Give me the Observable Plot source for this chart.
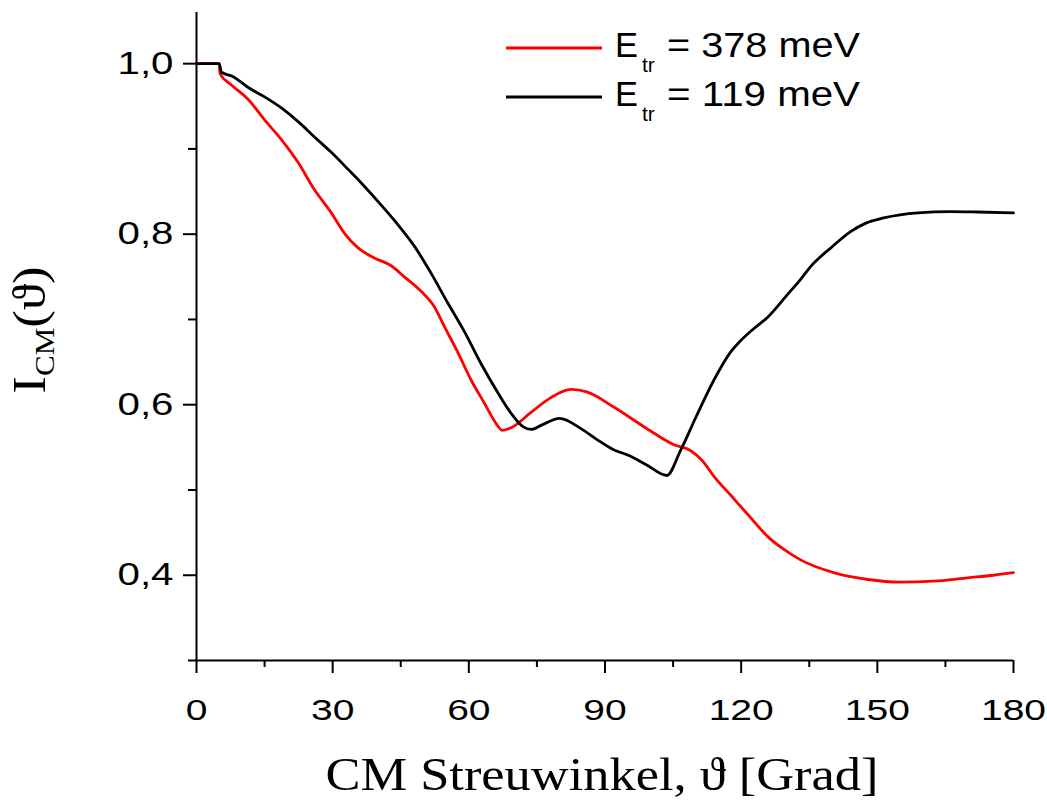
<!DOCTYPE html>
<html><head><meta charset="utf-8">
<script src="https://cdn.jsdelivr.net/npm/d3@7"></script>
<script src="https://cdn.jsdelivr.net/npm/@observablehq/plot@0.6"></script>
<style>body{margin:0;background:#fff}</style>
</head><body><div id="chart"></div>
<script>
// Series: E_tr = 378 meV (red)
const theta378 = [0,5,5.2,7.7,11.4,15,18.7,22.4,26,29.7,32.6,35.6,39.2,42.9,45.8,49.5,52.4,54.6,57.6,60.5,63.4,66.4,67.3,69.3,73.7,78,82.5,86,92,99.5,105.2,108.9,111.5,114,118,122,125.9,129.5,133.1,140.4,147.9,155.1,162.4,169.9,175.6,180];
const int378 = [1.0,1.0,0.988,0.975,0.958,0.934,0.911,0.884,0.852,0.825,0.801,0.784,0.772,0.763,0.750,0.733,0.715,0.692,0.661,0.629,0.602,0.575,0.570,0.573,0.591,0.608,0.618,0.615,0.597,0.571,0.553,0.546,0.534,0.516,0.492,0.468,0.445,0.430,0.418,0.403,0.395,0.392,0.393,0.397,0.400,0.403];
// Series: E_tr = 119 meV (black)
const theta119 = [0,5,5.5,8,11.4,15,18.7,22.4,26,29.7,33.4,36.3,40.7,44.4,48,51.7,55.4,59,62.7,66.4,69.3,72,73.7,76,80,84.7,88,92,95,99,103.6,106.7,110,114,117.7,119.5,122.5,125.9,130,133.1,135.3,140,144.1,147.5,151.4,158.9,166.1,172,180];
const int119 = [1.0,1.0,0.990,0.985,0.972,0.961,0.948,0.932,0.914,0.896,0.876,0.860,0.834,0.811,0.786,0.754,0.719,0.686,0.648,0.614,0.590,0.574,0.571,0.576,0.584,0.572,0.560,0.547,0.541,0.530,0.517,0.547,0.585,0.629,0.662,0.673,0.688,0.703,0.728,0.747,0.762,0.785,0.803,0.813,0.819,0.825,0.8264,0.826,0.825];

const seriesNames = ["378 meV", "119 meV"];
const seriesColors = ["#ff0000", "#000000"];
const xTicks = [0,30,60,90,120,150,180];
const xMinorTicks = [15,45,75,105,135,165];
const yTicks = [0.4,0.6,0.8,1.0];
const yMinorTicks = [0.3,0.5,0.7,0.9];

const rows = [
  ...theta378.map((t,i)=>({theta:t, I:int378[i], series:seriesNames[0]})),
  ...theta119.map((t,i)=>({theta:t, I:int119[i], series:seriesNames[1]}))
];

const fmtY = d => d.toFixed(1).replace(".", ",");

const svg = Plot.plot({
  width: 1047, height: 801,
  marginLeft: 196, marginRight: 34, marginTop: 12, marginBottom: 141,
  style: {background: "#fff", fontFamily: "'Liberation Sans', Arial, sans-serif", color: "#000"},
  x: {domain: [0, 180]},
  y: {domain: [0.3, 1.06]},
  color: {domain: seriesNames, range: seriesColors},
  marks: [
    Plot.axisX({ticks: xTicks, tickSize: 13, tickPadding: 25, fontSize: 30, strokeWidth: 2, tickFormat: d => String(d), label: null}),
    Plot.axisX({ticks: xMinorTicks, tickSize: 7, strokeWidth: 2, text: null, label: null}),
    Plot.axisY({ticks: yTicks, tickSize: 13, tickPadding: 10, fontSize: 31, strokeWidth: 2, tickFormat: fmtY, label: null}),
    Plot.axisY({ticks: yMinorTicks, tickSize: 8, strokeWidth: 2, text: null, label: null}),
    Plot.ruleY([0.3], {strokeWidth: 2}),
    Plot.ruleX([0], {strokeWidth: 2}),
    Plot.line(rows, {x: "theta", y: "I", z: "series", stroke: "series", strokeWidth: 2.8, curve: "monotone-x"})
  ]
});
document.getElementById("chart").appendChild(svg);

const s = d3.select(svg);
// stretch tick labels horizontally like the reference
s.selectAll('g[aria-label="x-axis tick label"] text, g[aria-label="y-axis tick label"] text').each(function(){
  const t = this.getAttribute("transform") || "";
  this.setAttribute("transform", t + " scale(1.3,1)");
});

// x axis title
s.append("text")
  .attr("transform", "translate(602,790) scale(1.14,1)")
  .attr("text-anchor", "middle")
  .attr("font-family", "'Liberation Serif', 'Times New Roman', serif")
  .attr("font-size", 46)
  .attr("fill", "#000")
  .text("CM Streuwinkel, ϑ [Grad]");

// y axis title
const yl = s.append("text")
  .attr("transform", "translate(45,330) rotate(-90) scale(1.15,1)")
  .attr("text-anchor", "middle")
  .attr("font-family", "'Liberation Serif', 'Times New Roman', serif")
  .attr("font-size", 46)
  .attr("fill", "#000");
yl.append("tspan").text("I");
yl.append("tspan").attr("font-size", 27).attr("dy", 9).text("CM");
yl.append("tspan").attr("dy", -9).text("(ϑ)");

// legend
const legY = [48, 97];
seriesNames.forEach((name, i) => {
  const y = legY[i];
  s.append("line").attr("x1", 506).attr("x2", 602).attr("y1", y).attr("y2", y)
    .attr("stroke", seriesColors[i]).attr("stroke-width", 3);
  const g = s.append("g").attr("font-family", "'Liberation Sans', Arial, sans-serif")
    .attr("fill", "#000").attr("text-anchor", "start");
  g.append("text").attr("x", 615).attr("y", y + 9).attr("font-size", 35)
    .attr("textLength", 23).attr("lengthAdjust", "spacingAndGlyphs").text("E");
  g.append("text").attr("x", 642).attr("y", y + 24).attr("font-size", 21).text("tr");
  g.append("text").attr("x", 667).attr("y", y + 9).attr("font-size", 35)
    .attr("textLength", 193).attr("lengthAdjust", "spacingAndGlyphs").text("= " + name);
});
</script>
</body></html>
